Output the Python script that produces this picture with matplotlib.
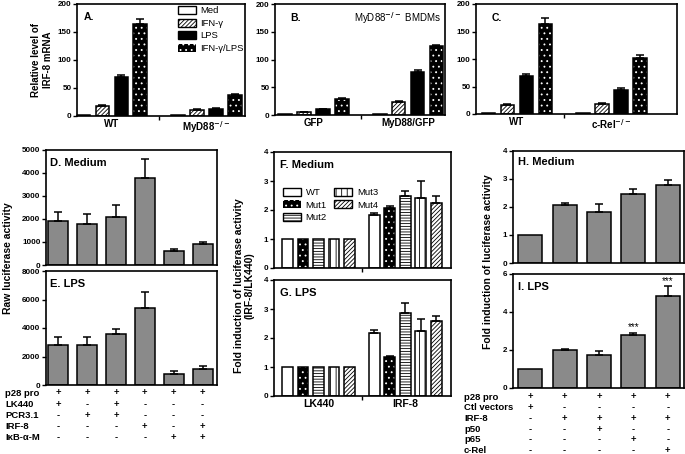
import numpy as np
import matplotlib
matplotlib.use('Agg')
import matplotlib.pyplot as plt
from matplotlib.patches import Patch
from matplotlib.transforms import blended_transform_factory

plt.rcParams['font.family'] = ['Liberation Sans', 'DejaVu Sans']
plt.rcParams['font.weight'] = 'bold'
plt.rcParams['hatch.linewidth'] = 0.6
plt.rcParams['axes.linewidth'] = 1.2

W, H = 685, 454

# ---- data ----
treat = ['Med', 'IFN-γ', 'LPS', 'IFN-γ/LPS']
a_groups = ['WT', 'MyD88$^{-/-}$']
a_vals = [[1, 18, 70, 164], [1, 11, 13, 38]]
a_err = [[0, 1, 3, 10], [0, 1, 1, 2]]
b_groups = ['GFP', 'MyD88/GFP']
b_vals = [[1, 5, 10, 28], [1, 23, 77, 124]]
b_err = [[0, 0.5, 1, 2], [0, 1.5, 4, 3]]
c_groups = ['WT', 'c-Rel$^{-/-}$']
c_vals = [[1, 17, 70, 164], [1, 18, 43, 102]]
c_err = [[0, 2, 3, 10], [0, 2, 5, 6]]

d_vals = [1900, 1800, 2100, 3800, 600, 900]
d_err = [400, 400, 500, 800, 100, 100]
e_vals = [2800, 2800, 3600, 5400, 800, 1150]
e_err = [600, 550, 300, 1100, 150, 200]
de_rows = ['p28 pro', 'LK440', 'PCR3.1', 'IRF-8', 'IκB-α-M']
de_table = ['++++++', '+-+---', '-++---', '---+-+', '----++']

mut = ['WT', 'Mut1', 'Mut2', 'Mut3', 'Mut4']
fg_groups = ['LK440', 'IRF-8']
f_vals = [[1, 1, 1, 1, 1], [1.82, 2.07, 2.5, 2.43, 2.25]]
f_err = [[0, 0, 0, 0, 0], [0.07, 0.08, 0.15, 0.58, 0.25]]
g_vals = [[1, 1, 1, 1, 1], [2.17, 1.35, 2.85, 2.25, 2.58]]
g_err = [[0, 0, 0, 0, 0], [0.12, 0.03, 0.35, 0.42, 0.18]]

h_vals = [1, 2.08, 1.83, 2.47, 2.78]
h_err = [0, 0.07, 0.28, 0.18, 0.2]
i_vals = [1, 2.0, 1.72, 2.8, 4.85]
i_err = [0, 0.05, 0.25, 0.12, 0.5]
i_stars = ['', '', '', '***', '***']
hi_rows = ['p28 pro', 'Ctl vectors', 'IRF-8', 'p50', 'p65', 'c-Rel']
hi_table = ['+++++', '+----', '-++++', '--+--', '---+-', '----+']

# bar looks: (face, hatch)
treat_style = [('white', None), ('white', '////////'), ('black', None), ('black', '...')]
mut_style = [('white', None), ('black', '...'), ('white', '------'), ('white', '|||'), ('white', '////////')]
GRAY = '#8a8a8a'

fig = plt.figure(figsize=(W / 100, H / 100), dpi=100)


def add_ax(l, t, r, b):
    return fig.add_axes([l / W, 1 - b / H, (r - l) / W, (b - t) / H])


def draw_bar(ax, x, h, w, style):
    face, hatch = style
    if face == 'black' and hatch:
        ax.bar(x, h, w, color='black', edgecolor='white', hatch=hatch, lw=0)
        ax.bar(x, h, w, fill=False, edgecolor='black', lw=1.1)
    else:
        ax.bar(x, h, w, color=face, edgecolor='black', hatch=hatch, lw=1.1)


def errs(ax, x, h, err):
    x, h, err = np.asarray(x, float), np.asarray(h, float), np.asarray(err, float)
    m = err > 0
    ax.errorbar(x[m], h[m], yerr=[np.zeros(m.sum()), err[m]], fmt='none',
                ecolor='black', elinewidth=1.1, capsize=3, capthick=1.1)


def ystyle(ax, ticks):
    ax.set_ylim(ticks[0], ticks[-1])
    ax.set_yticks(ticks)
    ax.tick_params(axis='y', direction='out', length=3, width=1, labelsize=5.8, pad=1)


def grouped(ax, vals, err, styles, gap, w):
    for g in range(len(vals)):
        for j in range(len(vals[g])):
            x = g * gap + j
            draw_bar(ax, x, vals[g][j], w, styles[j])
        xs = [g * gap + j for j in range(len(vals[g]))]
        errs(ax, xs, vals[g], err[g])


def group_xaxis(ax, centers, labels, mid, size=7):
    ax.set_xticks(centers)
    if labels:
        ax.set_xticklabels(labels, fontsize=size)
    else:
        ax.set_xticklabels([])
    ax.tick_params(axis='x', length=0, pad=2)
    ax.set_xticks([mid], minor=True)
    ax.tick_params(axis='x', which='minor', length=3, width=1)


def tag(ax, x, y, s, size=7.5):
    ax.text(x, y, s, transform=ax.transAxes, fontsize=size, fontweight='bold', va='center', ha='left')


def handles_for(styles):
    out = []
    for (face, hatch) in styles:
        if face == 'black' and hatch:
            out.append(Patch(facecolor='black', edgecolor='white', hatch=hatch, lw=0))
        else:
            out.append(Patch(facecolor=face, edgecolor='black', hatch=hatch, lw=1))
    return out


# ---- A, B, C ----
axA = add_ax(77, 4, 245, 116)
grouped(axA, a_vals, a_err, treat_style, 5, 0.72)
axA.set_xlim(-0.34, 8.53)
ystyle(axA, [0, 50, 100, 150, 200])
group_xaxis(axA, [1.5, 6.5], a_groups, 4)
tag(axA, 0.04, 0.88, 'A.')
axA.legend(handles_for(treat_style), treat, loc='upper left', bbox_to_anchor=(0.6, 0.98), frameon=False,
           prop={'size': 6.8, 'weight': 'normal'}, labelspacing=0.35, handlelength=1.9,
           handleheight=0.9, handletextpad=0.5, borderpad=0, borderaxespad=0)
fig.text(42 / W, 1 - 60 / H, 'Relative level of\nIRF-8 mRNA', rotation=90, ha='center', va='center',
         fontsize=7, linespacing=1.15)

axB = add_ax(275, 4, 445, 115)
grouped(axB, b_vals, b_err, treat_style, 5, 0.72)
axB.set_xlim(-0.53, 8.45)
ystyle(axB, [0, 50, 100, 150, 200])
group_xaxis(axB, [1.5, 6.5], b_groups, 4)
tag(axB, 0.09, 0.87, 'B.')
axB.text(0.98, 0.87, 'MyD88$^{-/-}$ BMDMs', transform=axB.transAxes, ha='right', va='center',
         fontsize=7, fontweight='normal')

axC = add_ax(476, 4, 677, 114)
grouped(axC, c_vals, c_err, treat_style, 5, 0.72)
axC.set_xlim(-0.66, 9.95)
ystyle(axC, [0, 50, 100, 150, 200])
group_xaxis(axC, [1.5, 6.5], c_groups, 4)
tag(axC, 0.08, 0.87, 'C.')

# ---- D, E ----
xs6 = np.arange(len(d_vals))
axD = add_ax(46, 150, 217, 265)
axD.bar(xs6, d_vals, 0.69, color=GRAY, edgecolor='black', lw=1.1)
errs(axD, xs6, d_vals, d_err)
axD.set_xlim(-0.42, 5.5)
ystyle(axD, [0, 1000, 2000, 3000, 4000, 5000])
axD.set_xticks([])
tag(axD, 0.025, 0.89, 'D. Medium', 8)

axE = add_ax(46, 271, 217, 385)
axE.bar(xs6, e_vals, 0.69, color=GRAY, edgecolor='black', lw=1.1)
errs(axE, xs6, e_vals, e_err)
axE.set_xlim(-0.42, 5.5)
ystyle(axE, [0, 2000, 4000, 6000, 8000])
axE.set_xticks([])
tag(axE, 0.025, 0.89, 'E. LPS', 8)
fig.text(8 / W, 1 - 258 / H, 'Raw luciferase activity', rotation=90, ha='center', va='center', fontsize=7.5)

trE = blended_transform_factory(axE.transData, fig.transFigure)
for r, (name, row) in enumerate(zip(de_rows, de_table)):
    y = 1 - (393 + r * 11.2) / H
    fig.text(5 / W, y, name, ha='left', va='center', fontsize=6.8)
    for k, ch in enumerate(row):
        axE.text(xs6[k], y, ch, transform=trE, ha='center', va='center', fontsize=6.8, clip_on=False)

# ---- F, G ----
axF = add_ax(274, 152, 451, 268)
grouped(axF, f_vals, f_err, mut_style, 5.6, 0.7)
axF.set_xlim(-0.87, 10.54)
ystyle(axF, [0, 1, 2, 3, 4])
group_xaxis(axF, [2, 7.6], None, 4.8)
tag(axF, 0.035, 0.89, 'F. Medium', 8)
axF.legend(handles_for(mut_style), mut, loc='upper left', bbox_to_anchor=(0.05, 0.69), ncol=2, frameon=False,
           prop={'size': 6.8, 'weight': 'normal'}, labelspacing=0.35, handlelength=1.9,
           handleheight=0.9, handletextpad=0.5, columnspacing=0.8, borderpad=0, borderaxespad=0)

axG = add_ax(274, 280, 451, 396)
grouped(axG, g_vals, g_err, mut_style, 5.6, 0.7)
axG.set_xlim(-0.87, 10.54)
ystyle(axG, [0, 1, 2, 3, 4])
group_xaxis(axG, [2, 7.6], fg_groups, 4.8, 7.5)
tag(axG, 0.035, 0.89, 'G. LPS', 8)
fig.text(244 / W, 1 - 286 / H, 'Fold induction of luciferase activity\n(IRF-8/LK440)', rotation=90,
         ha='center', va='center', fontsize=7.5, linespacing=1.1)

# ---- H, I ----
xs5 = np.arange(len(h_vals))
axH = add_ax(513, 151, 684, 263)
axH.bar(xs5, h_vals, 0.7, color=GRAY, edgecolor='black', lw=1.1)
errs(axH, xs5, h_vals, h_err)
axH.set_xlim(-0.5, 4.47)
ystyle(axH, [0, 1, 2, 3, 4])
axH.set_xticks([])
tag(axH, 0.03, 0.9, 'H. Medium', 8)

axI = add_ax(513, 274, 684, 388)
axI.bar(xs5, i_vals, 0.7, color=GRAY, edgecolor='black', lw=1.1)
errs(axI, xs5, i_vals, i_err)
axI.set_xlim(-0.5, 4.47)
ystyle(axI, [0, 2, 4, 6])
axI.set_xticks([])
tag(axI, 0.03, 0.89, 'I. LPS', 8)
for k, s in enumerate(i_stars):
    if s:
        axI.text(xs5[k], i_vals[k] + i_err[k] + 0.3, s, ha='center', va='center', fontsize=7,
                 fontweight='normal')
fig.text(488 / W, 1 - 262 / H, 'Fold induction of luciferase activity', rotation=90, ha='center',
         va='center', fontsize=7.5)

trI = blended_transform_factory(axI.transData, fig.transFigure)
for r, (name, row) in enumerate(zip(hi_rows, hi_table)):
    y = 1 - (397 + r * 10.7) / H
    fig.text(464 / W, y, name, ha='left', va='center', fontsize=6.8)
    for k, ch in enumerate(row):
        axI.text(xs5[k], y, ch, transform=trI, ha='center', va='center', fontsize=6.8, clip_on=False)

fig.savefig('out.png', dpi=100)
